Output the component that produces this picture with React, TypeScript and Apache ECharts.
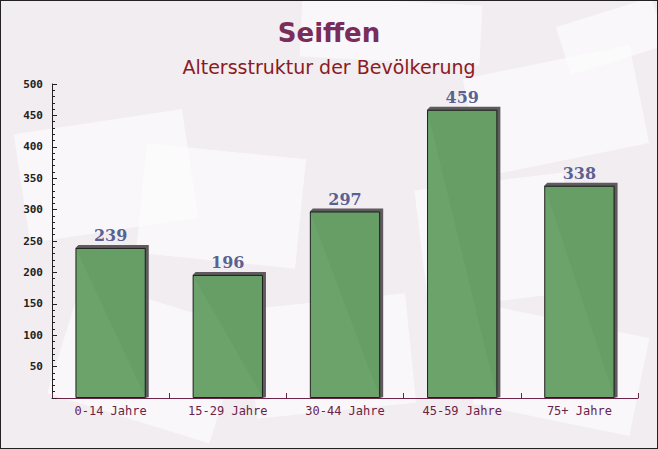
import React, { useEffect, useRef } from "react";
import * as echarts from "echarts";

const categories = ["0-14 Jahre", "15-29 Jahre", "30-44 Jahre", "45-59 Jahre", "75+ Jahre"];
const values = [239, 196, 297, 459, 338];
const titleText = "Seiffen";
const subtitleText = "Altersstruktur der Bevölkerung";

export default function App() {
  const ref = useRef<HTMLDivElement>(null);
  useEffect(() => {
    if (!ref.current) return;
    const chart = echarts.init(ref.current, null, { renderer: "svg" });
    const deco = [
      { x: 20, y: 120, w: 170, h: 110, r: 0.15 },
      { x: 300, y: 0, w: 180, h: 60, r: -0.05 },
      { x: 470, y: 60, w: 170, h: 100, r: 0.2 },
      { x: 140, y: 150, w: 160, h: 110, r: -0.1 },
      { x: 420, y: 180, w: 150, h: 120, r: 0.12 },
      { x: 60, y: 300, w: 170, h: 120, r: -0.3 },
      { x: 250, y: 300, w: 160, h: 110, r: 0.1 },
      { x: 480, y: 320, w: 160, h: 100, r: -0.2 },
      { x: 560, y: 10, w: 100, h: 50, r: 0.3 },
    ];
    chart.setOption({
      animation: false,
      backgroundColor: "#f1edf1",
      graphic: deco.map((d) => ({
        type: "rect",
        x: d.x + d.w / 2,
        y: d.y + d.h / 2,
        rotation: d.r,
        z: -10,
        silent: true,
        shape: { x: -d.w / 2, y: -d.h / 2, width: d.w, height: d.h },
        style: { fill: "rgba(255,255,255,0.55)" },
      })),
      title: [
        {
          text: titleText,
          left: "center",
          top: 14,
          textStyle: { fontFamily: "DejaVu Sans", fontWeight: "bold", fontSize: 26, color: "#7a2c5a" },
        },
        {
          text: subtitleText,
          left: "center",
          top: 51,
          textStyle: { fontFamily: "DejaVu Sans", fontWeight: "normal", fontSize: 19, color: "#8b1a22" },
        },
      ],
      grid: { left: 51, right: 19, top: 83, bottom: 50 },
      xAxis: {
        type: "category",
        data: categories,
        axisLine: { lineStyle: { color: "#6b2346", width: 1 } },
        axisTick: { show: true, inside: true, length: 5, lineStyle: { color: "#6b2346" } },
        axisLabel: {
          fontFamily: "DejaVu Sans Mono",
          fontSize: 12,
          color: "#6b2346",
          margin: 7,
        },
      },
      yAxis: {
        type: "value",
        min: 0,
        max: 500,
        interval: 50,
        axisLine: { show: true, lineStyle: { color: "#222", width: 1 } },
        axisTick: { show: true, inside: true, length: 5, lineStyle: { color: "#222" } },
        minorTick: { show: true, splitNumber: 5, length: 3, lineStyle: { color: "#222" } },
        splitLine: { show: false },
        axisLabel: {
          fontFamily: "DejaVu Sans Mono",
          fontWeight: "bold",
          fontSize: 11,
          color: "#222",
          margin: 9,
          formatter: (v: number) => (v === 0 ? "" : String(v)),
        },
      },
      series: [
        {
          type: "custom",
          z: 1,
          data: values.map((v, i) => [i, v]),
          renderItem: (params: any, api: any) => {
            const idx = api.value(0);
            const val = api.value(1);
            const top = api.coord([idx, val]);
            const base = api.coord([idx, 0]);
            const w = api.size([1, 0])[0] * 0.6;
            const left = top[0] - w / 2;
            const right = left + w;
            const d = 3;
            return {
              type: "polygon",
              shape: {
                points: [
                  [left, top[1]],
                  [left + d, top[1] - d],
                  [right + d, top[1] - d],
                  [right + d, base[1] - 1],
                  [right, base[1]],
                ],
              },
              style: { fill: "#5e5a5e" },
            };
          },
        },
        {
          type: "bar",
          z: 2,
          data: values,
          barWidth: "60%",
          itemStyle: { color: "#66a066", borderColor: "#1a1a1a", borderWidth: 1, opacity: 0.97 },
          label: {
            show: true,
            position: "top",
            distance: 4,
            fontFamily: "DejaVu Serif",
            fontWeight: "bold",
            fontSize: 16,
            color: "#565d8e",
          },
        },
      ],
    });
    return () => chart.dispose();
  }, []);
  return (
    <div
      ref={ref}
      style={{
        position: "fixed",
        left: 0,
        top: 0,
        width: 658,
        height: 449,
        boxSizing: "border-box",
        border: "1px solid #222",
      }}
    />
  );
}
